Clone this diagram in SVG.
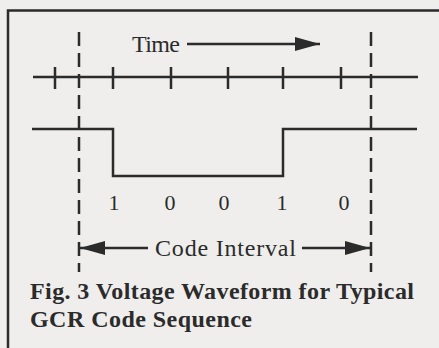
<svg xmlns="http://www.w3.org/2000/svg" width="439" height="348" viewBox="0 0 439 348">
<style>
.ln{stroke:#2b2b2b;stroke-width:2.5;fill:none}
.dash{stroke:#2b2b2b;stroke-width:2.5;fill:none;stroke-dasharray:14 7}
.t{font-family:"Liberation Serif","Times New Roman",serif;fill:#2b2b2b}
.cap{font-family:"Liberation Serif","Times New Roman",serif;font-weight:bold;fill:#2b2b2b;font-size:24px}
</style>
<defs>
<marker id="ah" markerUnits="userSpaceOnUse" markerWidth="26" markerHeight="16" refX="25" refY="7" orient="auto">
<path d="M0,0 L25,7 L0,14 Z" fill="#2b2b2b"/>
</marker>
</defs>
<rect width="439" height="348" fill="#efeeec"/>
<g id="frame">
<path class="ln" d="M8,348 V10.5 H439"/>
</g>
<g id="time-axis">
<line class="ln" x1="33" y1="77" x2="418" y2="77"/>
<path class="ln" d="M55,67V89 M113,67V89 M171,67V89 M228,67V89 M283,67V89 M341,67V89"/>
</g>
<g id="time-label">
<text class="t" x="132" y="52" font-size="24" textLength="48">Time</text>
</g>
<g id="waveform">
<path class="ln" d="M32,129 H113 V176 H283 V129 H417"/>
</g>
<g id="bits">
<text class="t" font-size="22" text-anchor="middle" y="210"><tspan x="114">1</tspan><tspan x="170">0</tspan><tspan x="224">0</tspan><tspan x="282">1</tspan><tspan x="344">0</tspan></text>
</g>
<g id="boundaries">
<line class="dash" x1="79" y1="32" x2="79" y2="272"/>
<line class="dash" x1="371" y1="32" x2="371" y2="272"/>
</g>
<g id="code-interval">
<text class="t" x="155" y="256" font-size="24" textLength="141">Code Interval</text>
</g>
<g id="connectors">
<line class="ln" x1="187" y1="44" x2="320" y2="44" marker-end="url(#ah)"/>
<line class="ln" x1="148" y1="248" x2="80" y2="248" marker-end="url(#ah)"/>
<line class="ln" x1="302" y1="248" x2="370" y2="248" marker-end="url(#ah)"/>
</g>
<g id="caption">
<text class="cap" x="30" y="299" textLength="384">Fig. 3 Voltage Waveform for Typical</text>
<text class="cap" x="30" y="327" textLength="222">GCR Code Sequence</text>
</g>
</svg>
